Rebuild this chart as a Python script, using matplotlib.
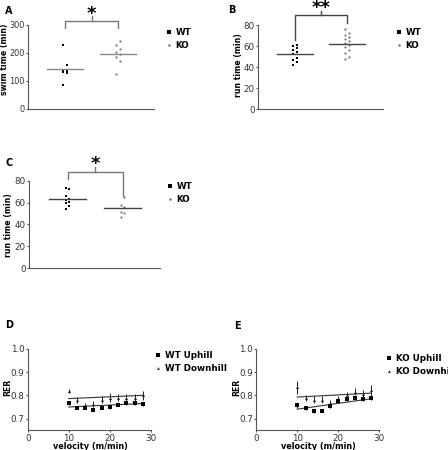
import matplotlib
matplotlib.use("Agg")
import matplotlib.pyplot as plt
import numpy as np
from matplotlib.lines import Line2D

plt.rcParams['font.family'] = ['DejaVu Sans']

# ---------------- data ----------------
groups = ["WT", "KO"]
swim_wt = [230, 156, 139, 137, 133, 127, 86]
swim_ko = [242, 229, 214, 203, 196, 184, 170, 126]
runB_wt = [61.2, 60.6, 58.7, 56.5, 54.3, 52.4, 49.1, 47.0, 44.8, 42.2]
runB_ko = [76.5, 72.4, 70.8, 69.1, 67.0, 65.0, 62.9, 61.2, 59.6, 56.5, 53.3, 50.1, 47.6]
runC_wt = [73.0, 72.4, 66.0, 63.0, 62.4, 60.8, 59.9, 57.2, 54.2]
runC_ko = [65.4, 57.8, 56.3, 51.7, 50.8, 47.1]

velocity = [10, 12, 14, 16, 18, 20, 22, 24, 26, 28]
wt_up = [0.767, 0.747, 0.747, 0.739, 0.747, 0.751, 0.760, 0.765, 0.766, 0.763]
wt_up_err = [0.008, 0.006, 0.006, 0.005, 0.006, 0.008, 0.006, 0.006, 0.008, 0.010]
wt_down = [0.820, 0.779, 0.757, 0.764, 0.781, 0.790, 0.790, 0.789, 0.789, 0.800]
wt_down_err = [0.008, 0.012, 0.012, 0.012, 0.015, 0.018, 0.016, 0.016, 0.016, 0.018]
ko_up = [0.757, 0.744, 0.731, 0.734, 0.756, 0.776, 0.783, 0.787, 0.785, 0.790]
ko_up_err = [0.012, 0.006, 0.005, 0.005, 0.008, 0.008, 0.008, 0.008, 0.010, 0.010]
ko_down = [0.836, 0.789, 0.781, 0.781, 0.769, 0.786, 0.803, 0.817, 0.807, 0.824]
ko_down_err = [0.028, 0.015, 0.015, 0.015, 0.013, 0.012, 0.012, 0.015, 0.018, 0.020]
fit_x = [10, 28]
fit_wt_up = [0.750, 0.765]
fit_wt_down = [0.786, 0.800]
fit_ko_up = [0.741, 0.786]
fit_ko_down = [0.793, 0.810]

# ---------------- figure ----------------
fig = plt.figure(figsize=(4.48, 4.5), dpi=100)
W, H = 448.0, 450.0

def axes_px(l, r, t, b):
    return fig.add_axes([l / W, 1 - b / H, (r - l) / W, (b - t) / H])

def fx(px):
    return px / W

def fy(py):
    return 1 - py / H

SP = '#555555'
TXT = '#333333'
FS = 6.3
LFS = 5.6

def style(ax, fs=FS):
    for s in ['top', 'right']:
        ax.spines[s].set_visible(False)
    for s in ['left', 'bottom']:
        ax.spines[s].set_color(SP)
        ax.spines[s].set_linewidth(0.8)
    ax.tick_params(colors=SP, labelcolor=TXT, labelsize=fs, length=1.6, width=0.8, pad=0.8)

def offsets(vals):
    n = len(vals)
    order = np.argsort(vals)
    off = np.zeros(n)
    for k, i in enumerate(order):
        off[i] = 0.035 * (1 if k % 2 else -1)
    return off

def set_ylabel(ax, text, xpx, ypx):
    ax.set_ylabel(text, fontsize=LFS, fontweight='bold')
    ax.yaxis.set_label_coords(fx(xpx), fy(ypx), transform=fig.transFigure)
    ax.yaxis.label.set_va('center')

def scatter_panel(ax, wt, ko, mean_color, ylim, yticks, ylabel, lab_x, lab_y, fs=FS):
    style(ax, fs)
    ax.set_xlim(-0.7, 1.68)
    ax.set_ylim(*ylim)
    ax.set_xticks([])
    ax.set_yticks(yticks)
    ax.plot(0 + offsets(wt), wt, 's', color='black', ms=2.0, mew=0, clip_on=False, label='WT')
    ax.plot(1 + offsets(ko), ko, 'o', color='#777777', ms=1.6, mew=0, clip_on=False, label='KO')
    ax.plot([-0.34, 0.34], [np.mean(wt)] * 2, color=mean_color, lw=1.0)
    ax.plot([1 - 0.34, 1 + 0.34], [np.mean(ko)] * 2, color=mean_color, lw=1.0)
    set_ylabel(ax, ylabel, lab_x, lab_y)

def bracket(ax, top, lleg, rleg, tick, star_y, stars, color):
    ax.plot([0, 0, 1, 1], [lleg, top, top, rleg], color=color, lw=1.0, clip_on=False)
    ax.plot([0.5, 0.5], [top, tick], color=color, lw=1.0, clip_on=False)
    ax.text(0.5, star_y, stars, ha='center', va='center', fontsize=13, fontweight='bold', clip_on=False)

def legend(ax, x, y, handles):
    ax.legend(handles=handles, loc='upper left', bbox_to_anchor=(fx(x), fy(y)),
              bbox_transform=fig.transFigure, frameon=False, handlelength=0.6,
              handletextpad=0.5, labelspacing=0.5, borderpad=0, borderaxespad=0,
              prop={'size': FS, 'weight': 'bold'})

h_wt = Line2D([], [], marker='s', color='black', ls='none', ms=2.2, mew=0, label='WT')
h_ko = Line2D([], [], marker='o', color='#777777', ls='none', ms=1.8, mew=0, label='KO')

# Panel A
axA = axes_px(28, 154, 25, 109)
scatter_panel(axA, swim_wt, swim_ko, '#888888', (0, 300), [0, 100, 200, 300],
              'swim time (min)', 4.6, 59, fs=5.9)
bracket(axA, 314, 289, 289, 333, 340, '*', '#777777')
legend(axA, 166, 28, [h_wt, h_ko])
fig.text(fx(5), fy(11), 'A', fontsize=7, fontweight='bold', va='center')

# Panel B
axB = axes_px(258, 383, 25.3, 109.3)
scatter_panel(axB, runB_wt, runB_ko, '#444444', (0, 80), [0, 20, 40, 60, 80],
              'run time (min)', 238.5, 65)
bracket(axB, 89.8, 66, 82.5, 93.9, 96, '**', '#444444')
legend(axB, 396, 28, [h_wt, h_ko])
fig.text(fx(228), fy(10), 'B', fontsize=7, fontweight='bold', va='center')

# Panel C
axC = axes_px(29, 160, 180.7, 268.3)
scatter_panel(axC, runC_wt, runC_ko, '#444444', (0, 80), [0, 20, 40, 60, 80],
              'run time (min)', 9, 225)
bracket(axC, 88.2, 81.3, 66, 92.2, 95.5, '*', '#777777')
legend(axC, 167, 182, [h_wt, h_ko])
fig.text(fx(5), fy(162.7), 'C', fontsize=7, fontweight='bold', va='center')

# Panels D, E
def rer_panel(ax, up, up_err, down, down_err, fit_up, fit_down, lab_x):
    style(ax)
    ax.set_xlim(0, 30)
    ax.set_ylim(0.65, 1.0)
    ax.set_xticks([0, 10, 20, 30])
    ax.set_yticks([0.7, 0.8, 0.9, 1.0])
    ax.set_yticklabels(['0.7', '0.8', '0.9', '1.0'])
    ax.plot(fit_x, fit_down, color='#333333', lw=0.8)
    ax.plot(fit_x, fit_up, color='#333333', lw=0.8)
    ax.errorbar(velocity, down, yerr=down_err, fmt='^', color='#222222', ms=2.2, mew=0,
                elinewidth=0.7, capsize=1.5, capthick=0.7)
    ax.errorbar(velocity, up, yerr=up_err, fmt='s', color='black', ms=3.0, mew=0,
                elinewidth=0.7, capsize=1.5, capthick=0.7)
    set_ylabel(ax, 'RER', lab_x, 387)
    bb = ax.get_position()
    ax.set_xlabel('velocity (m/min)', fontsize=5.9, fontweight='bold')
    ax.xaxis.set_label_coords(bb.x0 + bb.width / 2 + 1 / W, fy(446.3), transform=fig.transFigure)
    ax.xaxis.label.set_va('center')

axD = axes_px(27.7, 151, 348.7, 430.3)
rer_panel(axD, wt_up, wt_up_err, wt_down, wt_down_err, fit_wt_up, fit_wt_down, 7.5)
hD = [Line2D([], [], marker='s', color='black', ls='none', ms=3.0, mew=0, label='WT Uphill'),
      Line2D([], [], marker='^', color='#444444', ls='none', ms=2.2, mew=0, label='WT Downhill')]
legend(axD, 155, 351, hD)
fig.text(fx(5), fy(325), 'D', fontsize=7, fontweight='bold', va='center')

axE = axes_px(256.3, 379.3, 349, 430.3)
rer_panel(axE, ko_up, ko_up_err, ko_down, ko_down_err, fit_ko_up, fit_ko_down, 236.5)
hE = [Line2D([], [], marker='s', color='black', ls='none', ms=3.0, mew=0, label='KO Uphill'),
      Line2D([], [], marker='^', color='#444444', ls='none', ms=2.2, mew=0, label='KO Downhill')]
legend(axE, 386, 354, hE)
fig.text(fx(234), fy(326), 'E', fontsize=7, fontweight='bold', va='center')

fig.savefig('out.png', dpi=100)
